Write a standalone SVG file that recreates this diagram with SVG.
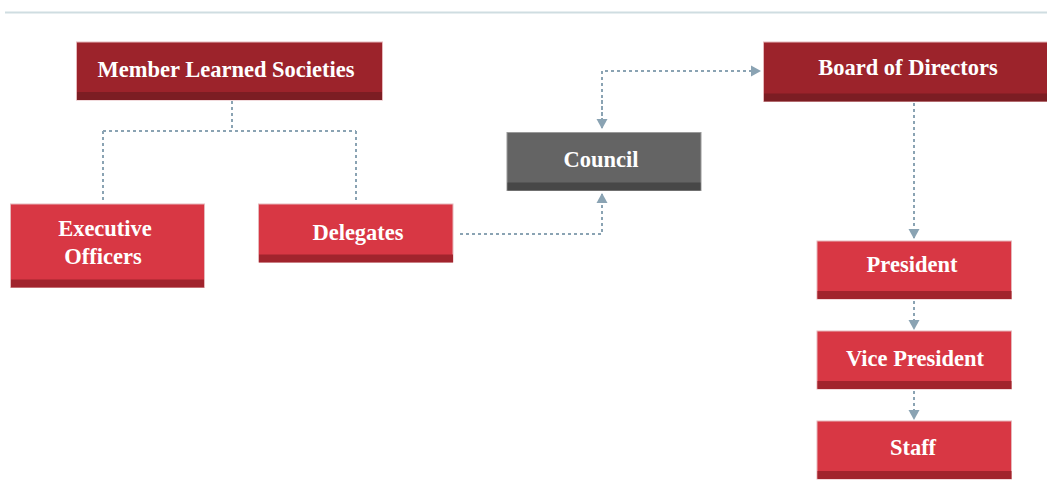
<svg xmlns="http://www.w3.org/2000/svg" width="1047" height="502" viewBox="0 0 1047 502">
<style>
.dk{fill:#9c232b}
.dks{fill:#7c1d23}
.rd{fill:#d83744}
.rds{fill:#a1242d}
.gr{fill:#646464}
.grs{fill:#474747}
.bx{stroke:#e6b8bb;stroke-width:1}
.lbl{font-family:"Liberation Serif",serif;font-size:22.5px;font-weight:bold;fill:#ffffff;text-anchor:middle}
.cn{fill:none;stroke:#8aa3b3;stroke-width:2;stroke-dasharray:3 3}
</style>
<defs>
<marker id="ah" markerWidth="12" markerHeight="12" refX="9" refY="6" orient="auto" markerUnits="userSpaceOnUse">
<path d="M0,0.5 L10,6 L0,11.5 Z" fill="#8aa3b3"/>
</marker>
</defs>
<rect width="1047" height="502" fill="#ffffff"/>
<line x1="5" y1="12.5" x2="1047" y2="12.5" stroke="#cfdde1" stroke-width="2"/>
<g id="connectors">
<path class="cn" d="M232,101 V131 M103,131 H356 M103,131 V203 M356,131 V203"/>
<path class="cn" d="M602,128 V71 H760" marker-end="url(#ah)"/>
<path class="cn" d="M602,100 V128" marker-end="url(#ah)"/>
<path class="cn" d="M460,234 H602 V194" marker-end="url(#ah)"/>
<path class="cn" d="M914,103 V238" marker-end="url(#ah)"/>
<path class="cn" d="M914,301 V329" marker-end="url(#ah)"/>
<path class="cn" d="M914,391 V419" marker-end="url(#ah)"/>
</g>
<g id="member">
<rect class="dk bx" x="76.5" y="42" width="306" height="58"/>
<rect class="dks" x="77" y="92" width="305" height="8"/>
<text class="lbl" x="226" y="77">Member Learned Societies</text>
</g>
<g id="executive">
<rect class="rd bx" x="10.5" y="204" width="194" height="83.5"/>
<rect class="rds" x="11" y="279.5" width="193" height="8"/>
<text class="lbl" x="105" y="235.5">Executive</text>
<text class="lbl" x="103" y="264">Officers</text>
</g>
<g id="delegates">
<rect class="rd bx" x="258.5" y="204" width="194.5" height="58"/>
<rect class="rds" x="259" y="254.5" width="194" height="8"/>
<text class="lbl" x="358" y="240">Delegates</text>
</g>
<g id="council">
<rect class="gr" x="507" y="132.5" width="194" height="58" stroke="#9a9a9a" stroke-width="1"/>
<rect class="grs" x="507.5" y="182.5" width="193" height="8"/>
<text class="lbl" x="601" y="167">Council</text>
</g>
<g id="board">
<rect class="dk bx" x="763.5" y="42" width="290" height="59.5"/>
<rect class="dks" x="764" y="93.5" width="290" height="8"/>
<text class="lbl" x="908" y="74.5">Board of Directors</text>
</g>
<g id="president">
<rect class="rd bx" x="817" y="241" width="194.5" height="58"/>
<rect class="rds" x="817.5" y="291" width="194" height="8"/>
<text class="lbl" x="912" y="272">President</text>
</g>
<g id="vicepresident">
<rect class="rd bx" x="817" y="331" width="194.5" height="58"/>
<rect class="rds" x="817.5" y="381" width="194" height="8"/>
<text class="lbl" x="915" y="366">Vice President</text>
</g>
<g id="staff">
<rect class="rd bx" x="817" y="421" width="194.5" height="58"/>
<rect class="rds" x="817.5" y="471" width="194" height="8"/>
<text class="lbl" x="913" y="455">Staff</text>
</g>
</svg>
